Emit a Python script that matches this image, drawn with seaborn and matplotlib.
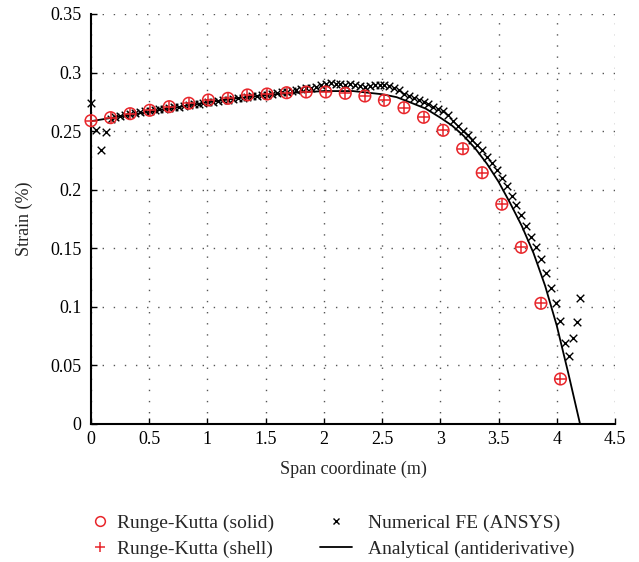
import numpy as np
import pandas as pd
import matplotlib
matplotlib.use("Agg")
import matplotlib.pyplot as plt
from matplotlib.lines import Line2D
import seaborn as sns

# ---------------- data ----------------
rk_x = [0.000, 0.168, 0.336, 0.504, 0.672, 0.840, 1.008, 1.176, 1.344, 1.512,
        1.680, 1.848, 2.016, 2.184, 2.352, 2.520, 2.688, 2.856, 3.024, 3.192,
        3.360, 3.528, 3.696, 3.864, 4.032]
rk_solid = [0.2589, 0.2615, 0.2649, 0.2678, 0.2709, 0.2738, 0.2766, 0.2780, 0.2809, 0.2817,
            0.2828, 0.2834, 0.2834, 0.2823, 0.2800, 0.2763, 0.2700, 0.2618, 0.2507, 0.2350,
            0.2145, 0.1876, 0.1508, 0.1030, 0.0384]
rk_shell = [0.2589, 0.2615, 0.2649, 0.2678, 0.2709, 0.2738, 0.2766, 0.2780, 0.2809, 0.2817,
            0.2828, 0.2834, 0.2834, 0.2823, 0.2800, 0.2763, 0.2700, 0.2618, 0.2507, 0.2350,
            0.2145, 0.1876, 0.1508, 0.1030, 0.0384]

fe_x = [0.000, 0.042, 0.084, 0.126, 0.168, 0.210, 0.252, 0.294, 0.336, 0.378,
        0.420, 0.462, 0.504, 0.546, 0.588, 0.630, 0.672, 0.714, 0.756, 0.798,
        0.840, 0.882, 0.924, 0.966, 1.008, 1.050, 1.092, 1.134, 1.176, 1.218,
        1.260, 1.302, 1.344, 1.386, 1.428, 1.470, 1.512, 1.554, 1.596, 1.638,
        1.680, 1.722, 1.764, 1.806, 1.848, 1.890, 1.932, 1.974, 2.016, 2.058,
        2.100, 2.142, 2.184, 2.226, 2.268, 2.310, 2.352, 2.394, 2.436, 2.478,
        2.520, 2.562, 2.604, 2.646, 2.688, 2.730, 2.772, 2.814, 2.856, 2.898,
        2.940, 2.982, 3.024, 3.066, 3.108, 3.150, 3.192, 3.234, 3.276, 3.318,
        3.360, 3.402, 3.444, 3.486, 3.528, 3.570, 3.612, 3.654, 3.696, 3.738,
        3.780, 3.822, 3.864, 3.906, 3.948, 3.990, 4.032, 4.074, 4.105, 4.140,
        4.170, 4.200]
fe_strain = [0.2740, 0.2510, 0.2340, 0.2495, 0.2605, 0.2620, 0.2630, 0.2638, 0.2645, 0.2652,
             0.2660, 0.2668, 0.2675, 0.2680, 0.2688, 0.2693, 0.2700, 0.2705, 0.2710, 0.2716,
             0.2722, 0.2728, 0.2735, 0.2742, 0.2748, 0.2752, 0.2758, 0.2762, 0.2768, 0.2775,
             0.2780, 0.2786, 0.2790, 0.2796, 0.2800, 0.2806, 0.2812, 0.2818, 0.2826, 0.2832,
             0.2838, 0.2845, 0.2852, 0.2858, 0.2865, 0.2872, 0.2880, 0.2890, 0.2905, 0.2915,
             0.2905, 0.2900, 0.2898, 0.2902, 0.2895, 0.2885, 0.2878, 0.2885, 0.2893, 0.2898,
             0.2892, 0.2882, 0.2868, 0.2848, 0.2815, 0.2798, 0.2782, 0.2765, 0.2748, 0.2730,
             0.2710, 0.2692, 0.2668, 0.2635, 0.2590, 0.2545, 0.2505, 0.2470, 0.2428, 0.2385,
             0.2335, 0.2280, 0.2225, 0.2168, 0.2100, 0.2030, 0.1950, 0.1872, 0.1782, 0.1688,
             0.1600, 0.1512, 0.1410, 0.1290, 0.1160, 0.1036, 0.0882, 0.0692, 0.0583, 0.0735,
             0.0873, 0.1073]

an_x = [0.0, 0.25, 0.5, 0.75, 1.0, 1.25, 1.5, 1.75, 2.0, 2.25, 2.5, 2.625, 2.75,
        2.875, 3.0, 3.1, 3.2, 3.3, 3.4, 3.5, 3.6, 3.7, 3.8, 3.9, 4.0, 4.1, 4.2]
an_strain = [0.2585, 0.2625, 0.2665, 0.2705, 0.2745, 0.2780, 0.2808, 0.2828, 0.2842, 0.2842,
             0.2815, 0.2790, 0.2742, 0.2692, 0.2615, 0.2548, 0.2460, 0.2352, 0.2222, 0.2068,
             0.1885, 0.1690, 0.1460, 0.1180, 0.0840, 0.0430, 0.0000]

x_ticks = [0, 0.5, 1, 1.5, 2, 2.5, 3, 3.5, 4, 4.5]
x_tick_labels = ["0", "0.5", "1", "1.5", "2", "2.5", "3", "3.5", "4", "4.5"]
y_ticks = [0, 0.05, 0.1, 0.15, 0.2, 0.25, 0.3, 0.35]
y_tick_labels = ["0", "0.05", "0.1", "0.15", "0.2", "0.25", "0.3", "0.35"]

labels = ["Runge-Kutta (solid)", "Runge-Kutta (shell)",
          "Numerical FE (ANSYS)", "Analytical (antiderivative)"]

# ---------------- style ----------------
sns.set_style("ticks")
plt.rcParams["font.family"] = ["Liberation Serif", "DejaVu Serif"]

RED = "#e8262b"

fig = plt.figure(figsize=(6.39, 5.62), dpi=100)
ax = fig.add_axes([0.1424, 0.2456, 0.82, 0.7295])

rk_df = pd.DataFrame({"x": rk_x, "solid": rk_solid, "shell": rk_shell})
fe_df = pd.DataFrame({"x": fe_x, "y": fe_strain})
an_df = pd.DataFrame({"x": an_x, "y": an_strain})

sns.lineplot(data=an_df, x="x", y="y", ax=ax, color="black", lw=1.3,
             sort=False, estimator=None, zorder=3)
sns.scatterplot(data=fe_df, x="x", y="y", ax=ax, marker="x", color="black",
                s=30, linewidth=1.0, zorder=4, clip_on=False)
sns.scatterplot(data=rk_df, x="x", y="solid", ax=ax, marker="o", s=70,
                zorder=5, clip_on=False)
ax.collections[-1].set_facecolor("none")
ax.collections[-1].set_edgecolor(RED)
ax.collections[-1].set_linewidth(1.1)
sns.scatterplot(data=rk_df, x="x", y="shell", ax=ax, marker="+", s=70,
                color=RED, linewidth=1.1, zorder=6, clip_on=False)

ax.set_xlim(0, 4.5)
ax.set_ylim(0, 0.35)
ax.set_xticks(x_ticks)
ax.set_xticklabels(x_tick_labels)
ax.set_yticks(y_ticks)
ax.set_yticklabels(y_tick_labels)
ax.tick_params(direction="in", length=4, width=1, labelsize=13, colors="black")
ax.tick_params(axis="y", pad=7)
ax.tick_params(axis="x", pad=5)
ax.set_xlabel("Span coordinate (m)", fontsize=13, labelpad=9)
ax.set_ylabel("Strain (%)", fontsize=13, labelpad=12)

for side in ["top", "right"]:
    ax.spines[side].set_visible(False)
for side in ["left", "bottom"]:
    ax.spines[side].set_linewidth(1.5)
    ax.spines[side].set_color("black")

ax.grid(True, color="#555555", linestyle=(0, (1, 7)), linewidth=1.0)
ax.set_axisbelow(True)

h_solid = Line2D([], [], marker="o", ls="none", mfc="none", mec=RED, mew=1.1, ms=7)
h_shell = Line2D([], [], marker="+", ls="none", color=RED, mew=1.1, ms=7)
h_fe = Line2D([], [], marker="x", ls="none", color="black", mew=1.0, ms=5)
h_an = Line2D([], [], color="black", lw=1.3)

leg1 = fig.legend([h_solid, h_shell], labels[:2], loc="upper left",
                  bbox_to_anchor=(0.1413, 0.085), frameon=False, fontsize=14,
                  handlelength=1.0, handletextpad=0.38, labelspacing=0.45,
                  borderpad=0, borderaxespad=0)
leg2 = fig.legend([h_fe, h_an], labels[2:], loc="upper left",
                  bbox_to_anchor=(0.5008, 0.085), frameon=False, fontsize=14,
                  handlelength=1.65, handletextpad=0.82, labelspacing=0.45,
                  borderpad=0, borderaxespad=0)

fig.savefig("out.png", dpi=100)
